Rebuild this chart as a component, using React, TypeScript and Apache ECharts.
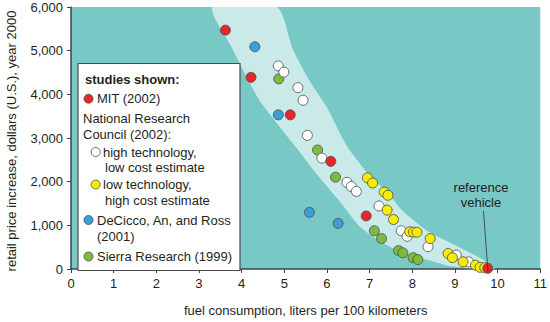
import React, { useEffect, useRef } from "react";
import * as echarts from "echarts";

const xTicks = [0, 11];
const yTicks = [0, 6000];

const mit = [[3.62, 5470], [4.22, 4390], [5.14, 3530], [6.09, 2465], [6.92, 1215], [9.77, 15]];
const nrcHigh = [[4.86, 4650], [4.99, 4508], [5.32, 4153], [5.44, 3864], [5.54, 3060], [5.88, 2540], [6.47, 1985], [6.57, 1888], [6.69, 1777], [7.22, 1444], [7.74, 875], [7.88, 748], [8.37, 511], [9.03, 320], [9.32, 164]];
const nrcLow = [[6.95, 2088], [7.07, 1970], [7.34, 1763], [7.43, 1688], [7.41, 1348], [7.56, 1133], [7.94, 853], [8.03, 844], [8.11, 844], [8.42, 697], [8.84, 355], [8.94, 260], [9.19, 164], [9.48, 89], [9.59, 38], [9.70, 31]];
const decicco = [[4.31, 5090], [4.86, 3530], [5.59, 1297], [6.26, 1044]];
const sierra = [[4.87, 4353], [5.78, 2725], [6.20, 2103], [7.11, 875], [7.28, 697], [7.68, 422], [7.78, 371], [8.02, 260], [8.13, 215]];

const bandLower = [[3.32, 6000], [3.79, 5034], [4.38, 3924], [4.89, 3258], [5.25, 2814], [5.78, 2148], [6.30, 1548], [6.77, 971], [7.24, 638], [7.78, 371], [8.41, 193], [8.81, 82], [9.35, 16], [9.77, 0]];
const bandUpper = [[4.82, 6000], [5.20, 5034], [5.60, 4301], [6.00, 3701], [6.47, 2813], [7.00, 2147], [7.40, 1770], [7.78, 1326], [8.34, 882], [9.04, 526], [9.65, 215], [9.93, 0]];

const TXT = "#231F20";
const FONT = "Liberation Sans, Arial, Helvetica, sans-serif";

export default function App() {
  const ref = useRef<HTMLDivElement>(null);
  useEffect(() => {
    document.body.style.margin = "0";
    const chart = echarts.init(ref.current!, null, { renderer: "svg" });
    const dot = (name: string, data: number[][], color: string, z: number) => ({
      name,
      type: "scatter",
      data,
      symbol: "circle",
      symbolSize: 10,
      z,
      itemStyle: { color, borderColor: "#4a4a4a", borderWidth: 0.8, opacity: 1 },
      emphasis: { disabled: true },
    });
    const legendItems: any[] = [];
    const addText = (text: string, x: number, y: number, bold = false) =>
      legendItems.push({
        type: "text",
        x, y,
        style: { text, fill: TXT, font: `${bold ? "bold " : ""}13px ${FONT}`, textVerticalAlign: "middle" },
        z: 101,
      });
    const addDot = (x: number, y: number, color: string, r = 4.5) =>
      legendItems.push({
        type: "circle",
        shape: { cx: x, cy: y, r },
        style: { fill: color, stroke: "#4a4a4a", lineWidth: 0.8 },
        z: 101,
      });
    legendItems.push({
      type: "rect",
      shape: { x: 78, y: 63.5, width: 162, height: 207 },
      style: { fill: "#ffffff", stroke: "#4d4d4d", lineWidth: 1.2 },
      z: 100,
    });
    addText("studies shown:", 85, 79, true);
    addDot(88.5, 98.7, "#E8262A");
    addText("MIT (2002)", 97, 98.7);
    addText("National Research", 83, 118);
    addText("Council (2002):", 83, 134);
    addDot(95.7, 152, "#ffffff");
    addText("high technology,", 103, 152);
    addText("low cost estimate", 105, 167);
    addDot(95.7, 184.5, "#F7EC00");
    addText("low technology,", 103, 184.5);
    addText("high cost estimate", 105, 200);
    addDot(88.5, 220, "#3BA0DA");
    addText("DeCicco, An, and Ross", 97, 220);
    addText("(2001)", 97, 236.5);
    addDot(88.5, 256.5, "#7DBB3F");
    addText("Sierra Research (1999)", 97, 256.5);

    chart.setOption({
      animation: false,
      grid: { left: 71, right: 9, top: 7, bottom: 45, show: true, backgroundColor: "#78C8C6", borderWidth: 0 },
      xAxis: {
        type: "value",
        min: xTicks[0],
        max: xTicks[1],
        interval: 1,
        name: "fuel consumption, liters per 100 kilometers",
        nameLocation: "middle",
        nameGap: 35,
        nameTextStyle: { color: TXT, fontSize: 13, fontFamily: FONT },
        axisLine: { show: true, lineStyle: { color: "#3a4646", width: 1.5 } },
        axisTick: { show: true, length: 4, lineStyle: { color: "#3a4646" } },
        axisLabel: { color: TXT, fontSize: 13, fontFamily: FONT, margin: 8 },
        splitLine: { show: false },
      },
      yAxis: {
        type: "value",
        min: yTicks[0],
        max: yTicks[1],
        interval: 1000,
        axisLine: { show: true, lineStyle: { color: "#3a4646", width: 1.5 } },
        axisTick: { show: true, length: 4, lineStyle: { color: "#3a4646" } },
        axisLabel: {
          color: TXT, fontSize: 13, fontFamily: FONT, margin: 8,
          formatter: (v: number) => v.toLocaleString("en-US"),
        },
        splitLine: { show: false },
      },
      series: [
        {
          type: "custom",
          z: 1,
          clip: true,
          silent: true,
          data: [[0, 0]],
          renderItem: (_p: any, api: any) => {
            const pts = [...bandLower, ...bandUpper.slice().reverse()].map((p) => api.coord(p));
            return {
              type: "polygon",
              shape: { points: pts, smooth: 0.25 },
              style: { fill: "#CAE9E9" },
            };
          },
        },
        dot("Sierra Research (1999)", sierra, "#7DBB3F", 3),
        dot("NRC high technology", nrcHigh, "#ffffff", 4),
        dot("NRC low technology", nrcLow, "#F7EC00", 5),
        dot("DeCicco, An, and Ross (2001)", decicco, "#3BA0DA", 6),
        dot("MIT (2002)", mit, "#E8262A", 7),
      ],
      graphic: [
        ...legendItems,
        {
          type: "text",
          x: 11, y: 141,
          rotation: Math.PI / 2,
          style: {
            text: "retail price increase, dollars (U.S.), year 2000",
            fill: TXT, font: `13px ${FONT}`, textAlign: "center", textVerticalAlign: "middle",
          },
        },
        {
          type: "text",
          x: 481, y: 187,
          style: { text: "reference", fill: TXT, font: `13px ${FONT}`, textAlign: "center", textVerticalAlign: "middle" },
          z: 50,
        },
        {
          type: "text",
          x: 481, y: 202,
          style: { text: "vehicle", fill: TXT, font: `13px ${FONT}`, textAlign: "center", textVerticalAlign: "middle" },
          z: 50,
        },
        {
          type: "line",
          shape: { x1: 483.5, y1: 211, x2: 488, y2: 272 },
          style: { stroke: "#333", lineWidth: 0.8 },
          z: 50,
        },
      ],
    });
    return () => chart.dispose();
  }, []);
  return <div ref={ref} style={{ width: 550, height: 322 }} />;
}
